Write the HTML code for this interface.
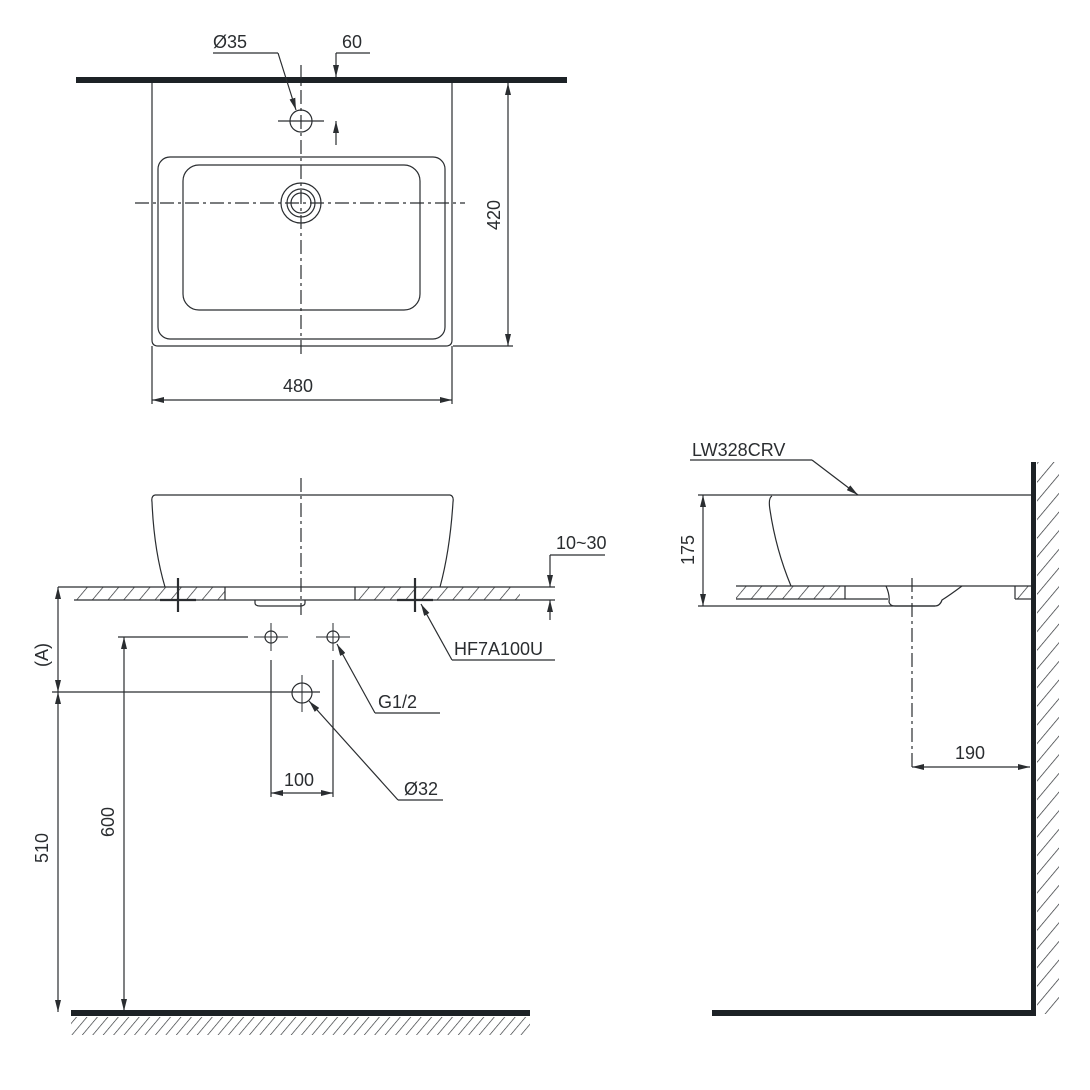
<!DOCTYPE html>
<html><head><meta charset="utf-8"><style>html,body{margin:0;padding:0;background:#fff}svg{display:block}</style></head>
<body>
<svg width="1090" height="1090" viewBox="0 0 1090 1090" xmlns="http://www.w3.org/2000/svg" font-family="Liberation Sans, sans-serif" font-size="18" fill="none" stroke="#2a2d30" stroke-width="1.2">
<defs>
<marker id="a" viewBox="0 0 12 6" refX="12" refY="3" markerWidth="12" markerHeight="6" orient="auto-start-reverse" markerUnits="userSpaceOnUse"><path d="M0,0 L12,3 L0,6 z" fill="#2a2d30" stroke="none"/></marker>
<pattern id="h" width="8" height="8" patternUnits="userSpaceOnUse" patternTransform="rotate(40)"><line x1="0" y1="0" x2="0" y2="8" stroke="#2a2d30" stroke-width="1.3"/></pattern>
<pattern id="h2" width="12" height="12" patternUnits="userSpaceOnUse" patternTransform="rotate(40)"><line x1="0" y1="0" x2="0" y2="12" stroke="#2a2d30" stroke-width="1.4"/></pattern>
</defs>
<!-- TOP VIEW -->
<rect x="76" y="77" width="491" height="6" fill="#1d2226" stroke="none"/>
<path d="M152,83 V340 Q152,346 158,346 H446 Q452,346 452,340 V83"/>
<rect x="158" y="157" width="287" height="182" rx="12"/>
<rect x="183" y="165" width="237" height="145" rx="16"/>
<circle cx="301" cy="203" r="20"/><circle cx="301" cy="203" r="14"/><circle cx="301" cy="203" r="10"/>
<circle cx="301" cy="121" r="11"/>
<line x1="301" y1="65" x2="301" y2="356" stroke-dasharray="14,4,3,4"/>
<line x1="135" y1="203" x2="465" y2="203" stroke-dasharray="14,4,3,4"/>
<line x1="278" y1="121" x2="324" y2="121"/>
<polyline points="213,53 278,53"/><line x1="278" y1="53" x2="296" y2="110" marker-end="url(#a)"/>
<polyline points="370,53 336,53"/><line x1="336" y1="53" x2="336" y2="77" marker-end="url(#a)"/>
<line x1="336" y1="145" x2="336" y2="121" marker-end="url(#a)"/>
<line x1="453" y1="346" x2="513" y2="346"/>
<line x1="508" y1="83" x2="508" y2="346" marker-start="url(#a)" marker-end="url(#a)"/>
<line x1="152" y1="346" x2="152" y2="404"/><line x1="452" y1="346" x2="452" y2="404"/>
<line x1="152" y1="400" x2="452" y2="400" marker-start="url(#a)" marker-end="url(#a)"/>
<g fill="#2a2d30" stroke="none">
<text x="213" y="48">Ø35</text><text x="342" y="48">60</text>
<text x="283" y="392">480</text>
<text transform="translate(500,215) rotate(-90)" text-anchor="middle">420</text>
</g>
<!-- FRONT VIEW -->
<path d="M155,495 H450 Q454,496 453,502 Q450,550 440,587 M155,495 Q151,496 152,502 Q154,550 165,587"/>
<line x1="301" y1="478" x2="301" y2="615" stroke-dasharray="14,4,3,4"/>
<rect x="74" y="587" width="151" height="13" fill="url(#h2)" stroke="none"/>
<rect x="355" y="587" width="165" height="13" fill="url(#h2)" stroke="none"/>
<line x1="58" y1="587" x2="555" y2="587"/><line x1="74" y1="600" x2="525" y2="600"/>
<line x1="225" y1="587" x2="225" y2="600"/><line x1="355" y1="587" x2="355" y2="600"/>
<path d="M255,600 V603 Q255,606 260,606 H300 Q305,606 305,603 V600"/>
<g stroke-width="2.2"><line x1="178" y1="578" x2="178" y2="612"/><line x1="415" y1="578" x2="415" y2="612"/>
<line x1="160" y1="600" x2="196" y2="600"/><line x1="397" y1="600" x2="433" y2="600"/></g>
<line x1="421" y1="604" x2="452" y2="660" marker-start="url(#a)"/><line x1="452" y1="660" x2="555" y2="660"/>
<polyline points="605,555 550,555"/><line x1="550" y1="555" x2="550" y2="587" marker-end="url(#a)"/>
<line x1="550" y1="620" x2="550" y2="600" marker-end="url(#a)"/><line x1="525" y1="600" x2="555" y2="600"/>
<line x1="58" y1="587" x2="58" y2="692" marker-start="url(#a)" marker-end="url(#a)"/>
<line x1="58" y1="692" x2="58" y2="1012" marker-start="url(#a)" marker-end="url(#a)"/>
<line x1="52" y1="692" x2="320" y2="692"/>
<line x1="118" y1="637" x2="248" y2="637"/>
<line x1="124" y1="637" x2="124" y2="1011" marker-start="url(#a)" marker-end="url(#a)"/>
<circle cx="271" cy="637" r="6"/><circle cx="333" cy="637" r="6"/><circle cx="302" cy="693" r="10"/>
<g stroke-width="1"><line x1="254" y1="637" x2="288" y2="637"/><line x1="271" y1="623" x2="271" y2="651"/>
<line x1="316" y1="637" x2="350" y2="637"/><line x1="333" y1="623" x2="333" y2="651"/>
<line x1="302" y1="675" x2="302" y2="712"/></g>
<line x1="271" y1="660" x2="271" y2="797"/><line x1="333" y1="660" x2="333" y2="797"/>
<line x1="271" y1="793" x2="333" y2="793" marker-start="url(#a)" marker-end="url(#a)"/>
<line x1="337" y1="644" x2="375" y2="713" marker-start="url(#a)"/><line x1="375" y1="713" x2="440" y2="713"/>
<line x1="309" y1="701" x2="398" y2="800" marker-start="url(#a)"/><line x1="398" y1="800" x2="443" y2="800"/>
<rect x="71" y="1010" width="459" height="6" fill="#1d2226" stroke="none"/>
<rect x="71" y="1017" width="459" height="18" fill="url(#h)" stroke="none"/>
<g fill="#2a2d30" stroke="none">
<text x="556" y="549">10~30</text><text x="454" y="655">HF7A100U</text>
<text x="378" y="708">G1/2</text><text x="404" y="795">Ø32</text><text x="284" y="786">100</text>
<text transform="translate(48,655) rotate(-90)" text-anchor="middle">(A)</text>
<text transform="translate(48,848) rotate(-90)" text-anchor="middle">510</text>
<text transform="translate(114,822) rotate(-90)" text-anchor="middle">600</text>
</g>
<!-- SIDE VIEW -->
<rect x="1031" y="462" width="5" height="553" fill="#1d2226" stroke="none"/>
<rect x="1037" y="462" width="22" height="552" fill="url(#h2)" stroke="none"/>
<rect x="712" y="1010" width="324" height="6" fill="#1d2226" stroke="none"/>
<line x1="698" y1="495" x2="1031" y2="495"/>
<path d="M772,496 Q768,498 770,510 Q776,550 791,586"/>
<rect x="736" y="586" width="109" height="13" fill="url(#h2)" stroke="none"/>
<rect x="1015" y="586" width="16" height="13" fill="url(#h2)" stroke="none"/>
<line x1="736" y1="586" x2="1031" y2="586"/><line x1="736" y1="599" x2="888" y2="599"/><line x1="1015" y1="599" x2="1031" y2="599"/>
<line x1="845" y1="586" x2="845" y2="599"/><line x1="1015" y1="586" x2="1015" y2="599"/>
<path d="M886,586 Q890,595 889,602 Q890,606 895,606 H935 Q940,606 942,600 Q950,595 962,586"/>
<line x1="698" y1="606" x2="935" y2="606"/>
<line x1="912" y1="578" x2="912" y2="770" stroke-dasharray="14,4,3,4"/>
<line x1="912" y1="767" x2="1030" y2="767" marker-start="url(#a)" marker-end="url(#a)"/>
<line x1="703" y1="495" x2="703" y2="606" marker-start="url(#a)" marker-end="url(#a)"/>
<line x1="690" y1="460" x2="812" y2="460"/><line x1="812" y1="460" x2="858" y2="495" marker-end="url(#a)"/>
<g fill="#2a2d30" stroke="none">
<text x="692" y="456">LW328CRV</text><text x="955" y="759">190</text>
<text transform="translate(694,550) rotate(-90)" text-anchor="middle">175</text>
</g>
</svg>
</body></html>
